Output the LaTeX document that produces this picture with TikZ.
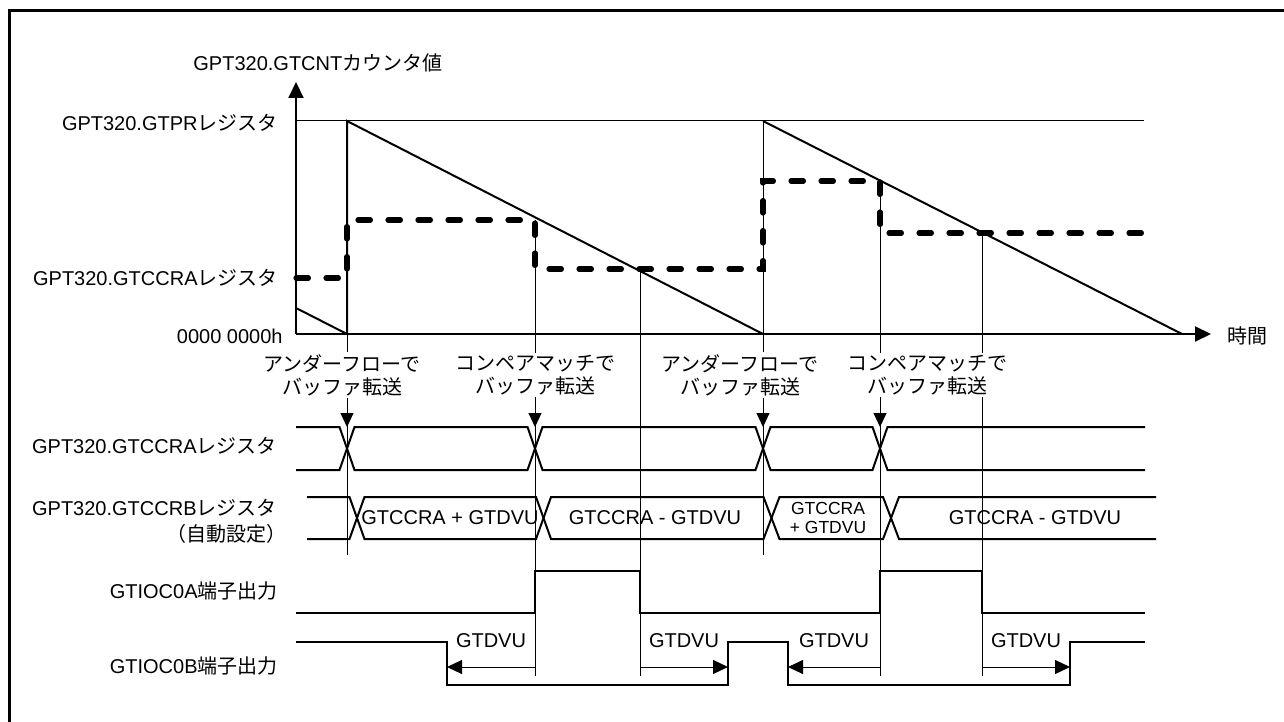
\documentclass[tikz,border=0pt]{standalone}
\usepackage{fontspec}
\setmainfont{Liberation Sans}
\newfontfamily\jp{Noto Sans CJK JP}
\usetikzlibrary{arrows.meta}

\tikzset{
  sig/.style={line width=1pt},
  evline/.style={line width=0.5pt},
  evarrow/.style={line width=0.5pt, -{Triangle[length=7pt,width=6.5pt]}},
  dvu/.style={line width=0.5pt, -{Triangle[length=7.5pt,width=7pt]}},
  ccr/.style={line width=2.6pt, dash pattern=on 6.2pt off 8.8pt, line cap=round},
  lbl/.style={inner sep=0pt, anchor=base east},
  ann/.style={fill=white, inner sep=1pt, align=center,
    font=\jp\fontsize{10}{11.5}\selectfont},
}

\begin{document}
\begin{tikzpicture}[x=0.5pt, y=-0.5pt]
    \useasboundingbox (0,0) rectangle (1284,722);
    % outer frame (runs off the page at right and bottom)
    \draw[line width=1.5pt] (9,11) rectangle (1300,740);

    % event points
    \coordinate (u1) at (347,121);
    \coordinate (u2) at (763,121);
    \coordinate (m1) at (535,220);
    \coordinate (m2) at (880,181);
    \coordinate (x1) at (640,269);
    \coordinate (x2) at (982,233);

    % axes and counter
    \draw[line width=1pt, -{Triangle[length=8pt,width=7.5pt]}] (296,334) -- (296,82);
    \draw[line width=1pt, -{Triangle[length=8pt,width=7.5pt]}] (296,334) -- (1211,334);
    \draw[evline] (296,121) -- (1144,121);
    \draw[sig] (296,308) -- (347,334) -- (u1) -- (763,334);
    \draw[sig] (u2) -- (1182,334);
    \draw[ccr] (296,278) -- (347,278) -- (347,220) -- (m1) -- (535,269) -- (x1)
        -- (763,269) -- (763,181) -- (m2) -- (880,233) -- (x2) -- (1142,233);

    % labels of the graph
    \node[anchor=base west, inner sep=0pt] (cntl) at (193,71) {GPT320.GTCNT{\jp カウンタ値}};
    \node[lbl] (prl) at (278,131) {GPT320.GTPR{\jp レジスタ}};
    \node[lbl] (cral) at (278,285) {GPT320.GTCCRA{\jp レジスタ}};
    \node[lbl] (zerol) at (283,343) {0000 0000h};
    \node[anchor=west, inner sep=0pt] (timel) at (1227,336) {\jp 時間};

    % event lines
    \draw[evline] (347,334) -- (347,555);
    \draw[evline] (m1) -- (535,676);
    \draw[evline] (x1) -- (640,676);
    \draw[evline] (u2) -- (763,555);
    \draw[evline] (m2) -- (880,676);
    \draw[evline] (x2) -- (982,676);

    % buffer transfer notes
    \node[ann] (ann1) at (342,375) {アンダーフローで\\バッファ転送};
    \node[ann] (ann2) at (535,375) {コンペアマッチで\\バッファ転送};
    \node[ann] (ann3) at (740,375) {アンダーフローで\\バッファ転送};
    \node[ann] (ann4) at (927,375) {コンペアマッチで\\バッファ転送};
    \coordinate (rowtop) at (0,427);
    \draw[evarrow] (ann1.south -| u1) -- (u1 |- rowtop);
    \draw[evarrow] (ann2.south -| m1) -- (m1 |- rowtop);
    \draw[evarrow] (ann3.south -| u2) -- (u2 |- rowtop);
    \draw[evarrow] (ann4.south -| m2) -- (m2 |- rowtop);

    % GTCCRA row
    \node[lbl] (rowa) at (277,453) {GPT320.GTCCRA{\jp レジスタ}};
    \draw[sig] (296,427) -- (339.5,427) -- (354.5,470) -- (527.5,470) -- (542.5,427)
        -- (755.5,427) -- (770.5,470) -- (872.5,470) -- (887.5,427) -- (1145,427);
    \draw[sig] (296,470) -- (339.5,470) -- (354.5,427) -- (527.5,427) -- (542.5,470)
        -- (755.5,470) -- (770.5,427) -- (872.5,427) -- (887.5,470) -- (1145,470);

    % GTCCRB row
    \node[lbl] (rowb) at (277,515) {GPT320.GTCCRB{\jp レジスタ}};
    \node[lbl] (rowbs) at (287,541) {\jp （自動設定）};
    \draw[sig] (307,497) -- (349.5,497) -- (364.5,539) -- (536,539) -- (551,497)
        -- (763.5,497) -- (779.5,539) -- (883,539) -- (899,497) -- (1156,497);
    \draw[sig] (307,539) -- (349.5,539) -- (364.5,497) -- (536,497) -- (551,539)
        -- (763.5,539) -- (779.5,497) -- (883,497) -- (899,539) -- (1156,539);
    \node (bp1) at (450,518) {GTCCRA + GTDVU};
    \node (bm1) at (655,518) {GTCCRA - GTDVU};
    \node[align=center, inner sep=0pt, font=\fontsize{8.75}{9.5}\selectfont] (bp2) at (828,518) {GTCCRA\\+ GTDVU};
    \node (bm2) at (1035,518) {GTCCRA - GTDVU};

    % output pins
    \node[lbl] (outa) at (278,598) {GTIOC0A{\jp 端子出力}};
    \node[lbl] (outb) at (278,673) {GTIOC0B{\jp 端子出力}};
    \draw[sig] (296,613) -- (535,613) -- (535,571) -- (640,571) -- (640,613)
        -- (880,613) -- (880,571) -- (982,571) -- (982,613) -- (1145,613);
    \coordinate (bf1) at (447,685);
    \coordinate (br1) at (728,642);
    \coordinate (bf2) at (788,685);
    \coordinate (br2) at (1070,642);
    \draw[sig] (296,642) -- (447,642) -- (bf1) -- (728,685) -- (br1) -- (788,642)
        -- (bf2) -- (1070,685) -- (br2) -- (1145,642);

    % dead time
    \coordinate (dv) at (0,667);
    \draw[dvu] (m1 |- dv) -- (bf1 |- dv) node[midway, above=6pt] (dvu1) {GTDVU};
    \draw[dvu] (x1 |- dv) -- (br1 |- dv) node[midway, above=6pt] (dvu2) {GTDVU};
    \draw[dvu] (m2 |- dv) -- (bf2 |- dv) node[midway, above=6pt] (dvu3) {GTDVU};
    \draw[dvu] (x2 |- dv) -- (br2 |- dv) node[midway, above=6pt] (dvu4) {GTDVU};
\end{tikzpicture}
\end{document}
